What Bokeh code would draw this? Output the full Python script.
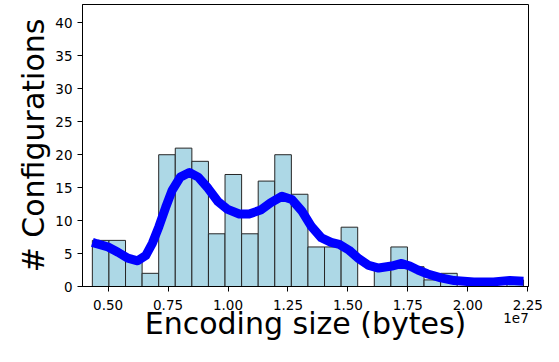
from bokeh.plotting import figure
from bokeh.models import Range1d, FixedTicker, LinearAxis, ColumnDataSource
from bokeh.embed import file_html
from bokeh.resources import INLINE

# ---- data ----
bin_start = 4.344e6
bin_width = 0.6915e6
counts = [7, 7, 4, 2, 20, 21, 19, 8, 17, 8, 16, 20, 14, 6, 6, 9, 0, 3, 6, 3, 1, 2, 0, 0, 0, 1]

kde_x = [4.344e6, 4.52e6, 5.00e6, 5.41e6, 5.82e6, 6.23e6, 6.57e6, 6.85e6, 7.12e6, 7.40e6,
         7.67e6, 8.01e6, 8.39e6, 8.76e6, 9.17e6, 9.58e6, 9.99e6, 10.47e6, 10.88e6, 11.36e6,
         11.77e6, 12.25e6, 12.66e6, 13.07e6, 13.48e6, 13.89e6, 14.30e6, 14.64e6, 15.05e6, 15.46e6,
         15.87e6, 16.28e6, 16.83e6, 17.24e6, 17.58e6, 17.92e6, 18.33e6, 18.88e6, 19.43e6, 20.25e6,
         21.07e6, 21.75e6, 22.32e6]
kde_y = [6.7, 6.5, 6.0, 5.2, 4.3, 3.9, 4.7, 6.6, 9.1, 12.0,
         14.6, 16.6, 17.3, 16.6, 14.9, 12.9, 11.7, 11.0, 11.0, 11.6,
         12.7, 13.7, 13.2, 11.5, 9.1, 7.4, 6.7, 6.4, 5.5, 4.2,
         3.2, 2.8, 3.1, 3.5, 3.1, 2.5, 1.9, 1.3, 0.9, 0.7,
         0.7, 0.9, 0.8]

x_ticks = [5e6, 7.5e6, 10e6, 12.5e6, 15e6, 17.5e6, 20e6, 22.5e6]
x_tick_labels = ["0.50", "0.75", "1.00", "1.25", "1.50", "1.75", "2.00", "2.25"]
y_ticks = [0, 5, 10, 15, 20, 25, 30, 35, 40]

x_label = "Encoding size (bytes)"
y_label = "# Configurations"
offset_text = "1e7"
offset_pos = 22.01e6

lefts = [bin_start + i * bin_width for i in range(len(counts))]
rights = [l + bin_width for l in lefts]
src = ColumnDataSource(dict(left=lefts, right=rights, top=counts, bottom=[0] * len(counts)))

FONT = "DejaVu Sans"
TICK_SIZE = "13.5px"

p = figure(width=543, height=346, output_backend="svg", toolbar_location=None,
           x_range=Range1d(3.933e6, 22.53e6), y_range=Range1d(0, 42.8),
           min_border_left=82, min_border_right=15, min_border_top=4, min_border_bottom=60)

p.quad(left="left", right="right", top="top", bottom="bottom", source=src,
       fill_color="#add8e6", line_color="#262626", line_width=1)
p.line(kde_x, kde_y, line_color="#0000ff", line_width=9, line_join="round", line_cap="butt")

p.xgrid.visible = False
p.ygrid.visible = False
p.outline_line_color = "#000000"
p.outline_line_width = 1
p.background_fill_color = "white"
p.border_fill_color = "white"

xa = p.xaxis[0]
xa.ticker = FixedTicker(ticks=x_ticks)
xa.major_label_overrides = {t: l for t, l in zip(x_ticks, x_tick_labels)}
ya = p.yaxis[0]
ya.ticker = FixedTicker(ticks=y_ticks)

for ax in (xa, ya):
    ax.minor_tick_line_color = None
    ax.major_tick_out = 5
    ax.major_tick_in = 0
    ax.axis_line_color = "#000000"
    ax.major_tick_line_color = "#000000"
    ax.major_label_text_font = FONT
    ax.major_label_text_font_size = TICK_SIZE
    ax.major_label_text_color = "#000000"
    ax.axis_label_text_font = FONT
    ax.axis_label_text_font_size = "30px"
    ax.axis_label_text_font_style = "normal"
    ax.axis_label_text_color = "#000000"

xa.axis_label = None
xa.major_label_standoff = 8
ya.axis_label = y_label
ya.major_label_standoff = 5
ya.axis_label_standoff = 1

# second bottom axis: carries the offset text "1e7" and the x axis title
xa2 = LinearAxis(ticker=FixedTicker(ticks=[offset_pos]),
                 major_label_overrides={offset_pos: offset_text})
xa2.axis_line_color = None
xa2.major_tick_line_color = None
xa2.minor_tick_line_color = None
xa2.major_tick_out = 0
xa2.major_tick_in = 0
xa2.major_label_standoff = 0
xa2.major_label_text_font = FONT
xa2.major_label_text_font_size = TICK_SIZE
xa2.major_label_text_color = "#000000"
xa2.axis_label = x_label
xa2.axis_label_text_font = FONT
xa2.axis_label_text_font_size = "30px"
xa2.axis_label_text_font_style = "normal"
xa2.axis_label_text_color = "#000000"
xa2.axis_label_standoff = -20
p.add_layout(xa2, "below")

open("out.html", "w").write(file_html(p, INLINE))
